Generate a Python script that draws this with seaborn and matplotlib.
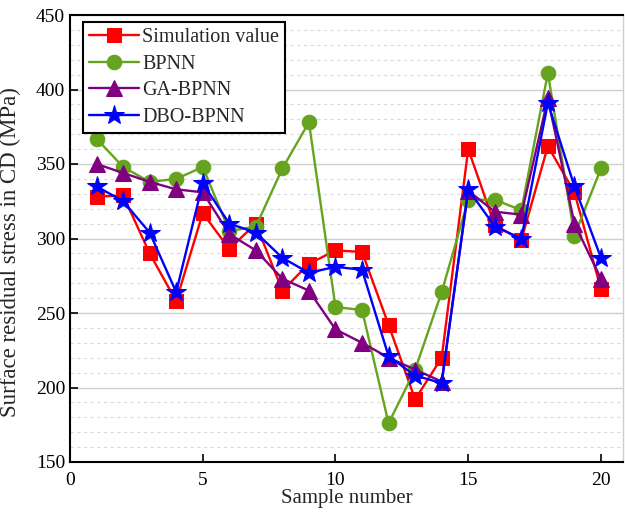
import numpy as np
import pandas as pd
import matplotlib
matplotlib.use("Agg")
import matplotlib.pyplot as plt
import seaborn as sns
from matplotlib.ticker import MultipleLocator

samples = list(range(1, 21))
simulation = [328, 329, 290, 258, 317, 293, 310, 265, 283, 292, 291, 242, 192, 220, 360, 309, 299, 362, 331, 266]
bpnn = [367, 348, 338, 340, 348, 305, 308, 347, 378, 254, 252, 176, 212, 264, 326, 326, 319, 411, 302, 347]
ga_bpnn = [350, 344, 338, 333, 331, 303, 292, 273, 265, 239, 230, 220, 212, 204, 332, 318, 316, 394, 310, 273]
dbo_bpnn = [335, 325, 304, 264, 337, 310, 304, 287, 277, 281, 279, 221, 208, 203, 333, 308, 300, 391, 335, 287]

series_names = ["Simulation value", "BPNN", "GA-BPNN", "DBO-BPNN"]
series_values = [simulation, bpnn, ga_bpnn, dbo_bpnn]
colors = ["#FF0000", "#66A31E", "#800080", "#0000FF"]
markers = ["s", "o", "^", "*"]
msizes = [10.5, 10.5, 11.5, 14.5]

sns.set_theme(style="white")
plt.rcParams["font.family"] = ["Liberation Serif", "DejaVu Serif"]
plt.rcParams["mathtext.fontset"] = "stix"

fig = plt.figure(figsize=(6.25, 5.16), dpi=100)
ax = fig.add_axes([70 / 625, 1 - 462 / 516, 553 / 625, 447 / 516])

for i, (name, vals) in enumerate(zip(series_names, series_values)):
    df = pd.DataFrame({"Sample": samples, "Value": vals})
    sns.lineplot(data=df, x="Sample", y="Value", ax=ax, color=colors[i],
                 marker=markers[i], markersize=msizes[i], markeredgecolor=colors[i],
                 linewidth=1.7, label=name, zorder=3 + i)

ax.set_xlim(0, 20.83)
ax.set_ylim(150, 450)
ax.xaxis.set_major_locator(MultipleLocator(5))
ax.yaxis.set_major_locator(MultipleLocator(50))
ax.yaxis.set_minor_locator(MultipleLocator(10))
ax.grid(which="major", axis="y", color="#CFCFCF", linewidth=1.0, linestyle="-")
ax.grid(which="minor", axis="y", color="#DADADA", linewidth=0.8, linestyle=(0, (3, 3)))
ax.grid(which="major", axis="x", visible=False)
ax.set_axisbelow(True)

ax.tick_params(axis="both", which="major", direction="in", length=6, width=1.2,
               labelsize=14, colors="black", left=True, bottom=True)
ax.tick_params(axis="x", which="major", pad=7.5)
ax.tick_params(axis="both", which="minor", length=0)
for s in ["left", "bottom", "top"]:
    ax.spines[s].set_color("black")
    ax.spines[s].set_linewidth(1.5)
ax.spines["right"].set_color("#CFCFCF")
ax.spines["right"].set_linewidth(1.0)

ax.set_xlabel("Sample number", fontsize=15, labelpad=0)
ax.set_ylabel("Surface residual stress in CD (MPa)", fontsize=16.5)
ax.yaxis.set_label_coords(-0.088, 0.47)

leg = ax.legend(loc="upper left", bbox_to_anchor=(0.0235, 0.985), fontsize=14.5,
                frameon=True, fancybox=False, edgecolor="black", framealpha=1,
                handlelength=2.5, borderpad=0.3, labelspacing=0.38, handletextpad=0.15,
                borderaxespad=0)
leg.get_frame().set_linewidth(1.5)

fig.savefig("out.png", dpi=100)
